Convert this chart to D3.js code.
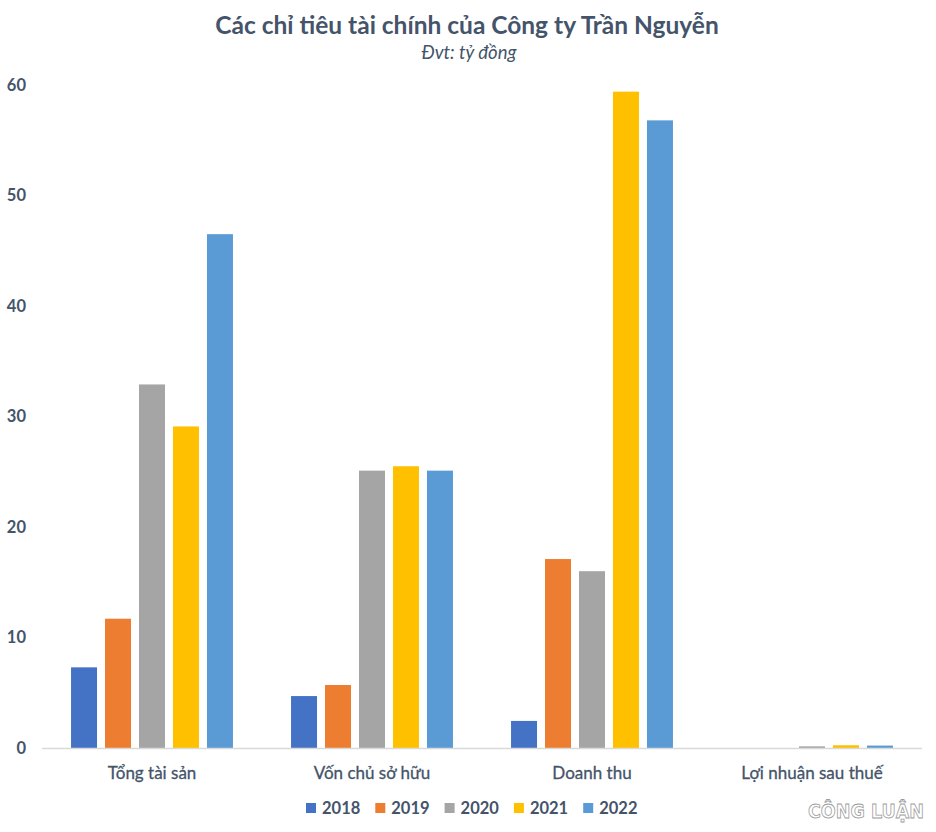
<!DOCTYPE html>
<html>
<head>
<meta charset="utf-8">
<script src="https://cdn.jsdelivr.net/npm/d3@7"></script>
<style>
  body { margin: 0; background: #fff; }
  svg text { font-family: Lato, "Open Sans", sans-serif; fill: #44546A; }
</style>
</head>
<body>
<svg id="chart" width="936" height="832"></svg>
<script>
// data (ty dong)
const categories = ['Tổng tài sản', 'Vốn chủ sở hữu', 'Doanh thu', 'Lợi nhuận sau thuế'];
const years = ['2018', '2019', '2020', '2021', '2022'];
const v2018 = [7.3, 4.7, 2.45, 0];
const v2019 = [11.7, 5.7, 17.1, 0];
const v2020 = [32.9, 25.1, 16.0, 0.15];
const v2021 = [29.1, 25.5, 59.4, 0.25];
const v2022 = [46.5, 25.1, 56.8, 0.22];
const yTicks = [0, 10, 20, 30, 40, 50, 60];
const colors = ['#4472C4', '#ED7D31', '#A5A5A5', '#FFC000', '#5B9BD5'];

const series = [v2018, v2019, v2020, v2021, v2022];

const svg = d3.select('#chart');
const plotLeft = 42, plotRight = 922, plotTop = 85, plotBottom = 748;

let x0 = d3.scaleBand().domain(categories).range([plotLeft, plotRight]).paddingInner(0.264).paddingOuter(0.132);
let x1 = d3.scaleBand().domain(years).range([0, x0.bandwidth()]).paddingInner(0.235).paddingOuter(0);
let y = d3.scaleLinear().domain([0, 60]).range([plotBottom, plotTop]);

// title
svg.append('text').attr('x', 467).attr('y', 34)
  .attr('text-anchor', 'middle').style('font-size', '24.5px').style('font-weight', 'bold')
  .text('Các chỉ tiêu tài chính của Công ty Trần Nguyễn');
svg.append('text').attr('x', 469).attr('y', 59)
  .attr('text-anchor', 'middle').style('font-size', '18.5px').style('font-style', 'italic')
  .text('Đvt: tỷ đồng');

// y labels (no gridlines in the original)
svg.selectAll('.ylab').data(yTicks).enter().append('text')
  .attr('class', 'ylab')
  .attr('x', 26).attr('y', d => y(d))
  .attr('dy', '0.35em').attr('text-anchor', 'end')
  .style('font-size', '16.5px').style('font-weight', 'bold')
  .text(d => d);

// bars
let groups = svg.selectAll('.grp').data(categories).enter().append('g')
  .attr('class', 'grp')
  .attr('transform', d => 'translate(' + x0(d) + ',0)');

groups.selectAll('rect')
  .data((d, i) => years.map((yr, j) => ({year: yr, value: series[j][i], color: colors[j]})))
  .enter().append('rect')
  .attr('x', d => x1(d.year))
  .attr('width', x1.bandwidth())
  .attr('y', d => y(d.value))
  .attr('height', d => plotBottom - y(d.value))
  .attr('fill', d => d.color);

// x axis line
svg.append('line').attr('x1', plotLeft).attr('x2', plotRight)
  .attr('y1', plotBottom + 0.5).attr('y2', plotBottom + 0.5)
  .attr('stroke', '#D9D9D9').attr('stroke-width', 1.5);

svg.selectAll('.xlab').data(categories).enter().append('text')
  .attr('class', 'xlab')
  .attr('x', d => x0(d) + x0.bandwidth() / 2).attr('y', 779)
  .attr('text-anchor', 'middle').style('font-size', '17px')
  .style('stroke', '#44546A').style('stroke-width', 0.3)
  .text(d => d);

// legend
let leg = svg.selectAll('.leg').data(years).enter().append('g')
  .attr('class', 'leg')
  .attr('transform', (d, i) => 'translate(' + (306 + i * 69.3) + ',803)');
leg.append('rect').attr('width', 10).attr('height', 10).attr('fill', (d, i) => colors[i]);
leg.append('text').attr('x', 16).attr('y', 5).attr('dy', '0.35em')
  .style('font-size', '16.5px').style('font-weight', 'bold')
  .text(d => d);

// watermark
svg.append('text').attr('x', 866).attr('y', 818).attr('text-anchor', 'middle')
  .style('font-size', '19px').style('font-weight', 'bold').style('font-family', '"DejaVu Sans", sans-serif')
  .style('fill', '#fff').style('stroke', '#9a9a9a').style('stroke-width', 0.8)
  .attr('textLength', 116).attr('lengthAdjust', 'spacingAndGlyphs')
  .text('CÔNG LUẬN');
</script>
</body>
</html>
